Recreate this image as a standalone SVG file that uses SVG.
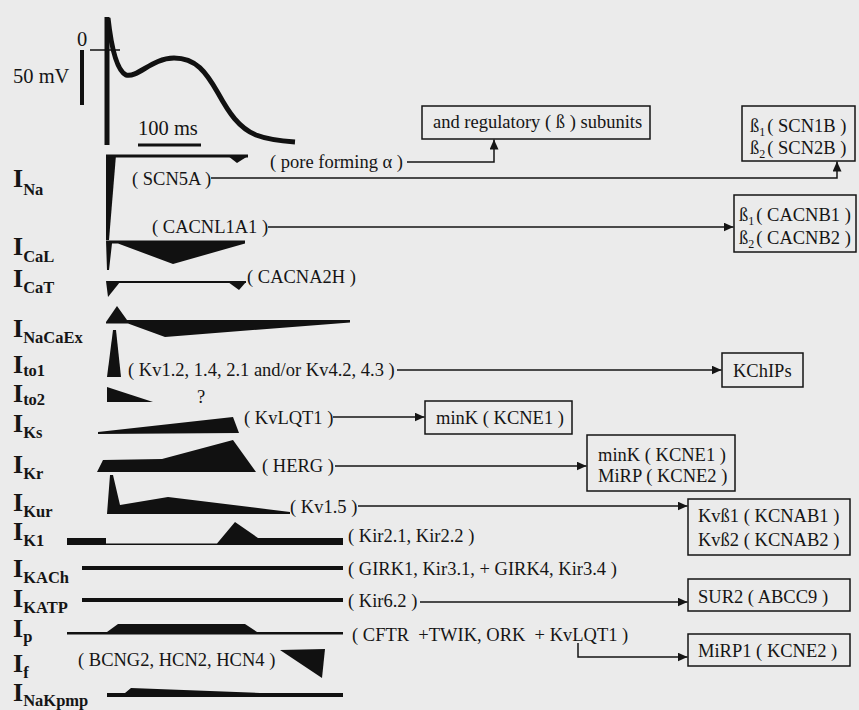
<svg xmlns="http://www.w3.org/2000/svg" width="859" height="710" viewBox="0 0 859 710">
<defs>
<style>
.t{font-family:"Liberation Serif","Times New Roman",serif;font-size:18.5px;fill:#151515}
.lab{font-family:"Liberation Serif","Times New Roman",serif;font-size:26px;font-weight:bold;fill:#151515}
.sub{font-size:16.5px}
.s{font-size:12px}
.big{font-size:20.5px}
.box{fill:none;stroke:#151515;stroke-width:1.5}
.wav{fill:#111;stroke:none}
.con{fill:none;stroke:#151515;stroke-width:1.5}
.arr{marker-end:url(#ah)}
</style>
<marker id="ah" markerUnits="userSpaceOnUse" markerWidth="11" markerHeight="9" refX="10" refY="4.5" orient="auto">
<path d="M0,0 L10,4.5 L0,9 z" fill="#151515"/>
</marker>
</defs>
<rect width="859" height="710" fill="#ebebeb"/>

<g id="action-potential">
<path d="M108,18 C111,45 116,70 126,75 C138,78 152,58 174,58 C196,58 206,72 218,93 C229,113 239,128 256,135 C269,140 281,141 295,142" fill="none" stroke="#111" stroke-width="5"/>
<line x1="107" y1="17" x2="107" y2="145" stroke="#111" stroke-width="5"/>
<line x1="90" y1="50" x2="120" y2="50" stroke="#111" stroke-width="1.5"/>
<line x1="82" y1="50" x2="82" y2="105" stroke="#111" stroke-width="4"/>
<line x1="138" y1="145" x2="201" y2="145" stroke="#111" stroke-width="3"/>
<text class="t big" x="77" y="46">0</text>
<text class="t big" x="13" y="83">50 mV</text>
<text class="t big" x="138" y="135">100 ms</text>
</g>

<g id="INa">
<text class="lab" x="13" y="187">I<tspan class="sub" y="195">Na</tspan></text>
<polygon class="wav" points="106,155 116,155 109,240 106,240"/>
<rect class="wav" x="106" y="154.5" width="142" height="3"/>
<polygon class="wav" points="228,156 248,156 237,163"/>
<text class="t" x="132" y="185">( SCN5A )</text>
<text class="t" x="270" y="168">( pore forming α )</text>
</g>

<g id="ICaL">
<text class="lab" x="13" y="255">I<tspan class="sub" y="262">CaL</tspan></text>
<polygon class="wav" points="106,240.5 245,240.5 245,243.5 173,264 118,243.5 112,243.5 109,270 107,270"/>
<text class="t" x="152" y="233">( CACNL1A1 )</text>
</g>

<g id="ICaT">
<text class="lab" x="13" y="287">I<tspan class="sub" y="293">CaT</tspan></text>
<rect class="wav" x="107" y="281" width="139" height="2"/>
<polygon class="wav" points="106,281 120,282 108,297"/>
<polygon class="wav" points="228,282 246,282 239,290"/>
<text class="t" x="247" y="283">( CACNA2H )</text>
</g>

<g id="INaCaEx">
<text class="lab" x="13" y="337">I<tspan class="sub" y="343">NaCaEx</tspan></text>
<polygon class="wav" points="106,322 117,306 127,320 350,320 350,322.5 165,337 128,323.5 106,323.5"/>
</g>

<g id="Ito1">
<text class="lab" x="13" y="373">I<tspan class="sub" y="376">to1</tspan></text>
<polygon class="wav" points="113,330 116,330 121,377 107,377"/>
<text class="t" x="128" y="376">( Kv1.2, 1.4, 2.1 and/or Kv4.2, 4.3 )</text>
</g>

<g id="Ito2">
<text class="lab" x="13" y="402">I<tspan class="sub" y="405">to2</tspan></text>
<polygon class="wav" points="107,387 153,402 107,402"/>
<text class="t" x="197" y="403">?</text>
</g>

<g id="IKs">
<text class="lab" x="13" y="432">I<tspan class="sub" y="438">Ks</tspan></text>
<polygon class="wav" points="98,432 233,417 239,433 98,434"/>
<text class="t" x="244" y="424">( KvLQT1 )</text>
</g>

<g id="IKr">
<text class="lab" x="13" y="473">I<tspan class="sub" y="479">Kr</tspan></text>
<polygon class="wav" points="97,472 103,460 162,459 233,440 256,472"/>
<text class="t" x="262" y="472">( HERG )</text>
</g>

<g id="IKur">
<text class="lab" x="13" y="511">I<tspan class="sub" y="517">Kur</tspan></text>
<polygon class="wav" points="107,514 110,475 113,475 120,505 168,497 290,512 290,514"/>
<text class="t" x="290" y="513">( Kv1.5 )</text>
</g>

<g id="IK1">
<text class="lab" x="13" y="540">I<tspan class="sub" y="546">K1</tspan></text>
<polygon class="wav" points="67,538 106,538 106,543.5 217,543.5 235,522 258,538 343,538 343,545 67,545"/>
<text class="t" x="348" y="542">( Kir2.1, Kir2.2 )</text>
</g>

<g id="IKACh">
<text class="lab" x="13" y="577">I<tspan class="sub" y="583">KACh</tspan></text>
<rect class="wav" x="82" y="566" width="261" height="4"/>
<text class="t" x="348" y="575">( GIRK1, Kir3.1, + GIRK4, Kir3.4 )</text>
</g>

<g id="IKATP">
<text class="lab" x="13" y="607">I<tspan class="sub" y="613">KATP</tspan></text>
<rect class="wav" x="82" y="598" width="261" height="4"/>
<text class="t" x="348" y="607">( Kir6.2 )</text>
</g>

<g id="Ip">
<text class="lab" x="13" y="637">I<tspan class="sub" y="642">p</tspan></text>
<polygon class="wav" points="67,632 107,632 118,624 245,624 257,632 343,632 343,634.5 67,634.5"/>
<text class="t" x="352" y="641" xml:space="preserve">( CFTR  +TWIK, ORK  + KvLQT1 )</text>
</g>

<g id="If">
<text class="lab" x="13" y="672">I<tspan class="sub" y="678">f</tspan></text>
<polygon class="wav" points="280,650 325,649 322,678"/>
<text class="t" x="78" y="666">( BCNG2, HCN2, HCN4 )</text>
</g>

<g id="INaKpmp">
<text class="lab" x="13" y="701">I<tspan class="sub" y="706">NaKpmp</tspan></text>
<polygon class="wav" points="107,693 125,693 131,688 260,693 343,693 343,697 107,697"/>
</g>

<g id="box-regulatory">
<rect class="box" x="422" y="106" width="228" height="33"/>
<text class="t" x="433" y="128">and regulatory ( ß ) subunits</text>
</g>
<g id="box-SCNB">
<rect class="box" x="742" y="106" width="113" height="55"/>
<text class="t" x="750" y="132">ß<tspan class="s" dy="4">1</tspan><tspan dx="2" dy="-4">( SCN1B )</tspan></text>
<text class="t" x="750" y="154">ß<tspan class="s" dy="4">2</tspan><tspan dx="2" dy="-4">( SCN2B )</tspan></text>
</g>
<g id="box-CACNB">
<rect class="box" x="734" y="195" width="122" height="57"/>
<text class="t" x="739" y="221">ß<tspan class="s" dy="4">1</tspan><tspan dx="2" dy="-4">( CACNB1 )</tspan></text>
<text class="t" x="739" y="244">ß<tspan class="s" dy="4">2</tspan><tspan dx="2" dy="-4">( CACNB2 )</tspan></text>
</g>
<g id="box-KChIPs">
<rect class="box" x="722" y="353" width="81" height="34"/>
<text class="t" x="733" y="377">KChIPs</text>
</g>
<g id="box-minK">
<rect class="box" x="425" y="401" width="147" height="33"/>
<text class="t" x="436" y="424">minK ( KCNE1 )</text>
</g>
<g id="box-minK-MiRP">
<rect class="box" x="587" y="435" width="148" height="56"/>
<text class="t" x="598" y="461">minK ( KCNE1 )</text>
<text class="t" x="598" y="482">MiRP ( KCNE2 )</text>
</g>
<g id="box-Kvb">
<rect class="box" x="688" y="499" width="162" height="56"/>
<text class="t" x="698" y="522">Kvß1 ( KCNAB1 )</text>
<text class="t" x="698" y="546">Kvß2 ( KCNAB2 )</text>
</g>
<g id="box-SUR2">
<rect class="box" x="688" y="579" width="162" height="32"/>
<text class="t" x="698" y="603">SUR2 ( ABCC9 )</text>
</g>
<g id="box-MiRP1">
<rect class="box" x="688" y="634" width="162" height="32"/>
<text class="t" x="698" y="657">MiRP1 ( KCNE2 )</text>
</g>

<g id="connectors">
<path class="con arr" d="M407,162 H494 V139.5"/>
<path class="con arr" d="M211,178 H837 V161.5"/>
<path class="con arr" d="M268,227 H733.5"/>
<path class="con arr" d="M397,370 H721.5"/>
<path class="con arr" d="M333,417 H424.5"/>
<path class="con arr" d="M335,466 H586.5"/>
<path class="con arr" d="M358,506 H687.5"/>
<path class="con arr" d="M420,602 H687.5"/>
<path class="con arr" d="M578,643 V657 H687.5"/>
</g>
</svg>
